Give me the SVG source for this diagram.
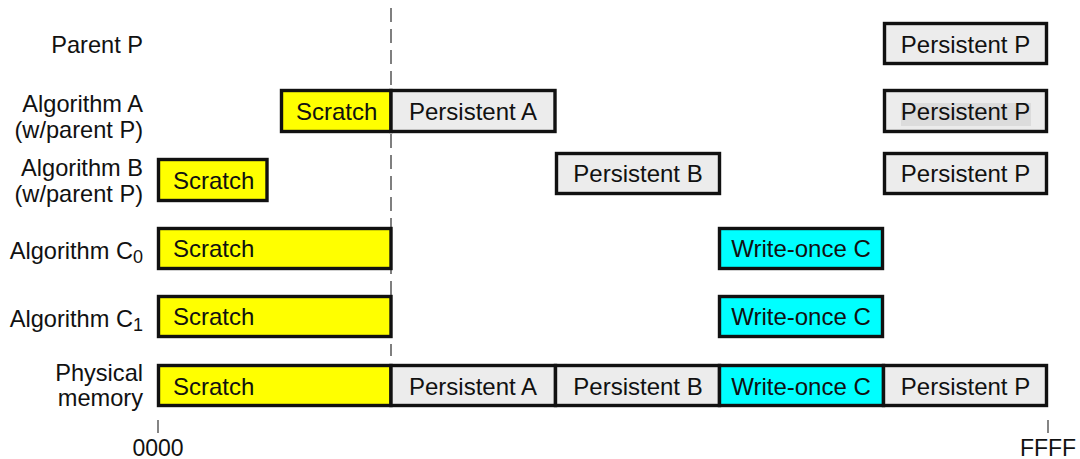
<svg xmlns="http://www.w3.org/2000/svg" width="1080" height="459" viewBox="0 0 1080 459">
  <style>
    text { font-family: "Liberation Sans", Arial, sans-serif; fill: #111; }
    .lbl { font-size: 23.6px; text-anchor: end; }
    .box { stroke: #111; stroke-width: 3.4; }
    .scr { fill: #ffff00; }
    .per { fill: #ececec; }
    .wo { fill: #00ffff; }
    .t { font-size: 24px; }
    .c { text-anchor: middle; }
    .axis { font-size: 23px; text-anchor: middle; }
    .tick { stroke: #333; stroke-width: 1.2; }
  </style>

  <!-- row labels -->
  <g id="labels">
    <text class="lbl" x="143" y="53">Parent P</text>
    <text class="lbl" x="143" y="112">Algorithm A</text>
    <text class="lbl" x="143" y="138">(w/parent P)</text>
    <text class="lbl" x="143" y="176">Algorithm B</text>
    <text class="lbl" x="143" y="202">(w/parent P)</text>
    <text class="lbl" x="143" y="259">Algorithm C<tspan font-size="18" dy="4">0</tspan></text>
    <text class="lbl" x="143" y="327">Algorithm C<tspan font-size="18" dy="4">1</tspan></text>
    <text class="lbl" x="143" y="381">Physical</text>
    <text class="lbl" x="143" y="406">memory</text>
  </g>

  <!-- boundary between scratch and persistent space, address ticks -->
  <g id="connectors">
    <line x1="391" y1="8" x2="391" y2="356" stroke="#555" stroke-width="1.5" stroke-dasharray="14 7"/>
    <line class="tick" x1="158" y1="420" x2="158" y2="433"/>
    <line class="tick" x1="1048" y1="420" x2="1048" y2="433"/>
  </g>

  <!-- Parent P -->
  <g id="parent-p">
    <rect class="box per" x="884.5" y="23.5" width="162" height="40"/>
    <text class="t c" x="965.5" y="53">Persistent P</text>
  </g>

  <!-- Algorithm A -->
  <g id="alg-a">
    <rect class="box scr" x="281.5" y="90.5" width="109.5" height="41"/>
    <text class="t" x="296" y="120">Scratch</text>
    <rect class="box per" x="391" y="90.5" width="164" height="41"/>
    <text class="t c" x="473" y="120">Persistent A</text>
    <rect class="box per" x="884.5" y="90.5" width="162" height="41"/>
    <rect x="901" y="103" width="130" height="23" fill="#dcdcdc"/>
    <text class="t c" x="965.5" y="120">Persistent P</text>
  </g>

  <!-- Algorithm B -->
  <g id="alg-b">
    <rect class="box scr" x="158.5" y="159.5" width="108.5" height="41"/>
    <text class="t" x="173" y="189">Scratch</text>
    <rect class="box per" x="556.5" y="153.5" width="163" height="40"/>
    <text class="t c" x="638" y="182">Persistent B</text>
    <rect class="box per" x="884.5" y="153.5" width="162" height="40"/>
    <text class="t c" x="965.5" y="182">Persistent P</text>
  </g>

  <!-- Algorithm C0 -->
  <g id="alg-c0">
    <rect class="box scr" x="158.5" y="228.5" width="232.5" height="40"/>
    <text class="t" x="173" y="257">Scratch</text>
    <rect class="box wo" x="719.5" y="228.5" width="163" height="40"/>
    <text class="t c" x="801" y="257">Write-once C</text>
  </g>

  <!-- Algorithm C1 -->
  <g id="alg-c1">
    <rect class="box scr" x="158.5" y="296.5" width="232.5" height="40"/>
    <text class="t" x="173" y="325">Scratch</text>
    <rect class="box wo" x="719.5" y="296.5" width="163" height="40"/>
    <text class="t c" x="801" y="325">Write-once C</text>
  </g>

  <!-- Physical memory -->
  <g id="physical">
    <rect class="box scr" x="158.5" y="365.5" width="232.5" height="40"/>
    <text class="t" x="173" y="395">Scratch</text>
    <rect class="box per" x="391" y="365.5" width="164.5" height="40"/>
    <text class="t c" x="473" y="395">Persistent A</text>
    <rect class="box per" x="555.5" y="365.5" width="164" height="40"/>
    <text class="t c" x="638" y="395">Persistent B</text>
    <rect class="box wo" x="719.5" y="365.5" width="164" height="40"/>
    <text class="t c" x="801" y="395">Write-once C</text>
    <rect class="box per" x="883.5" y="365.5" width="163" height="40"/>
    <text class="t c" x="965.5" y="395">Persistent P</text>
  </g>

  <!-- address axis -->
  <g id="axis">
    <text class="axis" x="158" y="456">0000</text>
    <text class="axis" x="1048" y="456">FFFF</text>
  </g>
</svg>
